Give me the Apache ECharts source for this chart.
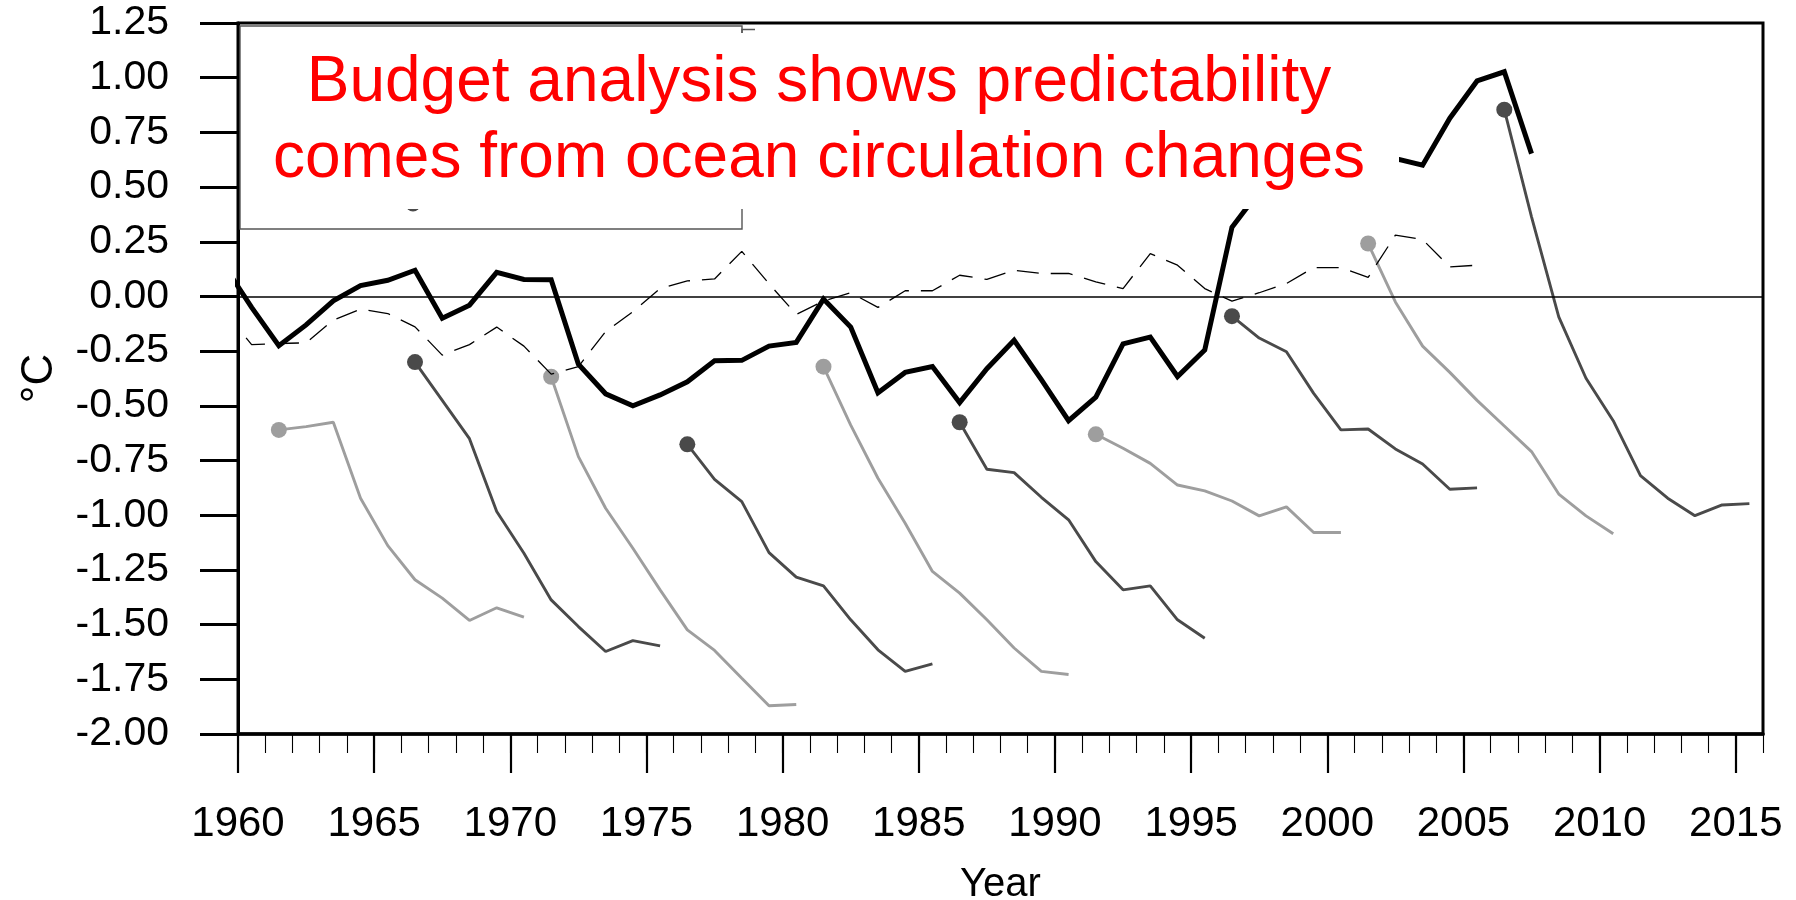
<!DOCTYPE html>
<html>
<head>
<meta charset="utf-8">
<title>Hindcasts vs observed</title>
<script src="https://cdn.jsdelivr.net/npm/echarts@6/dist/echarts.min.js"></script>
<style>
  html, body { margin: 0; padding: 0; background: #fff; }
  #chart { width: 1796px; height: 900px; }
</style>
</head>
<body>
<div id="chart"></div>
<script>
// Annual means are plotted at mid-year (year + 0.5).
const obsStartYear = 1959;
// Observed anomaly (thick black), 1959–2007
const obsValues = [
  0.14, -0.05, -0.225, -0.13, -0.02, 0.05, 0.074, 0.12, -0.10, -0.04,
  0.11, 0.078, 0.076, -0.31, -0.445, -0.50, -0.45, -0.39, -0.294, -0.292,
  -0.227, -0.21, -0.012, -0.14, -0.44, -0.347, -0.32, -0.485, -0.33, -0.20,
  -0.38, -0.568, -0.46, -0.217, -0.186, -0.366, -0.245, 0.316, 0.48, 0.52,
  0.50, 0.56, 0.60, 0.63, 0.60, 0.815, 0.985, 1.027, 0.653
];

const refStartYear = 1959;
// Reference run (thin dashed), 1959–2005
const refValues = [
  -0.07, -0.22, -0.215, -0.212, -0.108, -0.058, -0.078, -0.139, -0.268, -0.22,
  -0.14, -0.227, -0.355, -0.321, -0.16, -0.07, 0.036, 0.071, 0.08, 0.206,
  0.058, -0.082, -0.021, 0.017, -0.05, 0.026, 0.026, 0.097, 0.078, 0.12,
  0.105, 0.105, 0.067, 0.036, 0.196, 0.143, 0.036, -0.021, 0.017, 0.059,
  0.132, 0.132, 0.087, 0.28, 0.26, 0.135, 0.143
];

// Ten-year hindcasts, one every five years
const hindcastStarts = [1961, 1966, 1971, 1976, 1981, 1986, 1991, 1996, 2001, 2006];
const hindcast1961 = [-0.61, -0.595, -0.575, -0.922, -1.139, -1.295, -1.379, -1.481, -1.423, -1.466];
const hindcast1966 = [-0.30, -0.475, -0.65, -0.983, -1.174, -1.387, -1.509, -1.623, -1.573, -1.597];
const hindcast1971 = [-0.367, -0.732, -0.968, -1.151, -1.341, -1.524, -1.618, -1.745, -1.871, -1.865];
const hindcast1976 = [-0.676, -0.836, -0.938, -1.171, -1.283, -1.323, -1.478, -1.615, -1.714, -1.679];
const hindcast1981 = [-0.321, -0.588, -0.831, -1.037, -1.257, -1.356, -1.478, -1.607, -1.714, -1.728];
const hindcast1986 = [-0.575, -0.79, -0.805, -0.918, -1.021, -1.212, -1.341, -1.323, -1.478, -1.562];
const hindcast1991 = [-0.63, -0.694, -0.763, -0.862, -0.889, -0.935, -1.003, -0.962, -1.079, -1.079];
const hindcast1996 = [-0.09, -0.19, -0.253, -0.443, -0.61, -0.606, -0.697, -0.766, -0.881, -0.875];
const hindcast2001 = [0.242, -0.025, -0.227, -0.347, -0.475, -0.592, -0.709, -0.903, -1.003, -1.085];
const hindcast2006 = [0.854, 0.364, -0.093, -0.374, -0.568, -0.819, -0.922, -1.002, -0.953, -0.947];
const hindcastValues = [hindcast1961, hindcast1966, hindcast1971, hindcast1976, hindcast1981,
                        hindcast1986, hindcast1991, hindcast1996, hindcast2001, hindcast2006];

// Axis ticks
const xTickYears = [1960, 1965, 1970, 1975, 1980, 1985, 1990, 1995, 2000, 2005, 2010, 2015];
const xMinorYears = [];
for (let y = 1960; y <= 2016; y++) xMinorYears.push(y);
const yMin = -2.0, yMax = 1.25, yStep = 0.25;

const annotationLines = ['Budget analysis shows predictability', 'comes from ocean circulation changes'];

const FONT = '"Liberation Sans", Arial, Helvetica, sans-serif';
const LIGHT = '#9e9e9e';
const DARK = '#4a4a4a';

function toPairs(startYear, values) {
  return values.map((v, i) => [startYear + i + 0.5, v]);
}

const series = [];
hindcastValues.forEach((vals, k) => {
  const color = k % 2 === 0 ? LIGHT : DARK;
  const s = {
    type: 'line',
    name: 'Hindcast ' + hindcastStarts[k],
    xAxisIndex: 0,
    data: toPairs(hindcastStarts[k], vals),
    symbol: 'circle',
    symbolSize: (v, p) => (p.dataIndex === 0 ? 16 : 0),
    showAllSymbol: true,
    lineStyle: { color: color, width: 2.9 },
    itemStyle: { color: color, borderWidth: 0 },
    z: 3
  };
  if (k === 0) {
    s.markLine = {
      silent: true,
      symbol: 'none',
      label: { show: false },
      lineStyle: { color: '#000', width: 1.6, type: 'solid' },
      data: [{ yAxis: 0 }]
    };
  }
  series.push(s);
});

series.push({
  type: 'line',
  name: 'Reference',
  data: toPairs(refStartYear, refValues),
  symbol: 'none',
  lineStyle: { color: '#000', width: 1.3, type: [22, 12] },
  z: 4
});

series.push({
  type: 'line',
  name: 'Observed',
  data: toPairs(obsStartYear, obsValues),
  symbol: 'none',
  lineStyle: { color: '#000', width: 5, join: 'miter' },
  z: 5
});

const chart = echarts.init(document.getElementById('chart'), null, { renderer: 'canvas' });

chart.setOption({
  animation: false,
  backgroundColor: '#fff',
  grid: {
    left: 238, right: 33, top: 23, bottom: 166,
    containLabel: false, outerBoundsMode: 'none',
    show: true, borderColor: '#000', borderWidth: 3, backgroundColor: 'transparent'
  },
  xAxis: [
    {
      type: 'value', min: 1960, max: 2016, interval: 5,
      position: 'bottom',
      name: 'Year', nameLocation: 'middle', nameGap: 131,
      nameTextStyle: { fontFamily: FONT, fontSize: 40, color: '#000' },
      axisLine: { show: true, onZero: false, lineStyle: { color: '#000', width: 3.5 } },
      axisTick: { show: true, inside: false, length: 39, lineStyle: { color: '#000', width: 2.2 }, customValues: xTickYears },
      axisLabel: {
        show: true, margin: 69, fontFamily: FONT, fontSize: 42, color: '#000',
        customValues: xTickYears, formatter: v => String(v)
      },
      splitLine: { show: false }
    },
    {
      type: 'value', min: 1960, max: 2016, interval: 1,
      position: 'bottom',
      axisLine: { show: false, onZero: false },
      axisTick: { show: true, inside: false, length: 19, lineStyle: { color: '#000', width: 1.1 }, customValues: xMinorYears },
      axisLabel: { show: false },
      splitLine: { show: false }
    }
  ],
  yAxis: {
    type: 'value', min: yMin, max: yMax, interval: yStep,
    name: '°C', nameLocation: 'middle', nameRotate: 90, nameGap: 176,
    nameTextStyle: { fontFamily: FONT, fontSize: 44, color: '#000' },
    axisLine: { show: true, onZero: false, lineStyle: { color: '#000', width: 3 } },
    axisTick: { show: true, inside: false, length: 38, lineStyle: { color: '#000', width: 3 } },
    axisLabel: {
      margin: 69, fontFamily: FONT, fontSize: 41, color: '#000',
      formatter: v => v.toFixed(2)
    },
    splitLine: { show: false }
  },
  series: series,
  graphic: [
    // legend frame, mostly hidden by the annotation box
    {
      type: 'rect', z: 20,
      shape: { x: 240, y: 26, width: 502, height: 203 },
      style: { fill: '#fff', stroke: '#555', lineWidth: 1.4 }
    },
    {
      type: 'circle', z: 21,
      shape: { cx: 413, cy: 204, r: 7.5 },
      style: { fill: DARK }
    },
    {
      type: 'polyline', z: 21,
      shape: { points: [[742, 35], [742, 29.5], [755, 29.5]] },
      style: { stroke: '#555', lineWidth: 1.4, fill: null }
    },
    // annotation box
    {
      type: 'rect', z: 30,
      shape: { x: 241, y: 33, width: 1158, height: 176 },
      style: { fill: '#fff', stroke: null }
    },
    {
      type: 'text', z: 31,
      style: {
        x: 819, y: 83, text: annotationLines[0],
        font: '64px ' + FONT, fill: '#ff0000',
        textAlign: 'center', textVerticalAlign: 'middle'
      }
    },
    {
      type: 'text', z: 31,
      style: {
        x: 819, y: 159, text: annotationLines[1],
        font: '64px ' + FONT, fill: '#ff0000',
        textAlign: 'center', textVerticalAlign: 'middle'
      }
    }
  ]
});
</script>
</body>
</html>
